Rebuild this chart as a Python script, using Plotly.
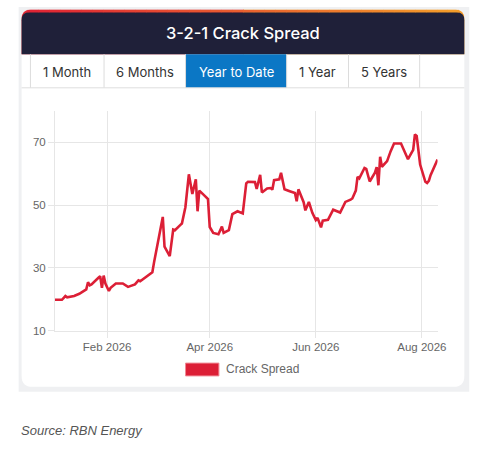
import plotly.graph_objects as go

# ---------------------------
# Data (YTD 3-2-1 crack spread, $/bbl)
# ---------------------------
dates = [
    "2026-01-02", "2026-01-06", "2026-01-08", "2026-01-09", "2026-01-13",
    "2026-01-16", "2026-01-20", "2026-01-21", "2026-01-22", "2026-01-23",
    "2026-01-27", "2026-01-28", "2026-01-29", "2026-01-30", "2026-01-31",
    "2026-02-02", "2026-02-03", "2026-02-05", "2026-02-06", "2026-02-10",
    "2026-02-12", "2026-02-13", "2026-02-17", "2026-02-19", "2026-02-20",
    "2026-02-24", "2026-02-27", "2026-02-28", "2026-03-03", "2026-03-05",
    "2026-03-06", "2026-03-09", "2026-03-11", "2026-03-12", "2026-03-15",
    "2026-03-16", "2026-03-18", "2026-03-20", "2026-03-22", "2026-03-24",
    "2026-03-25", "2026-03-26", "2026-03-29", "2026-03-31", "2026-04-01",
    "2026-04-03", "2026-04-06", "2026-04-08", "2026-04-09", "2026-04-12",
    "2026-04-14", "2026-04-17", "2026-04-20", "2026-04-22", "2026-04-23",
    "2026-04-27", "2026-04-28", "2026-04-30", "2026-05-01", "2026-05-04",
    "2026-05-06", "2026-05-07", "2026-05-08", "2026-05-11", "2026-05-12",
    "2026-05-14", "2026-05-17", "2026-05-20", "2026-05-21", "2026-05-22",
    "2026-05-25", "2026-05-26", "2026-05-28", "2026-05-30", "2026-06-01",
    "2026-06-02", "2026-06-04", "2026-06-05", "2026-06-08", "2026-06-11",
    "2026-06-15", "2026-06-16", "2026-06-18", "2026-06-21", "2026-06-22",
    "2026-06-24", "2026-06-25", "2026-06-26", "2026-06-29", "2026-06-30",
    "2026-07-02", "2026-07-05", "2026-07-06", "2026-07-07", "2026-07-08",
    "2026-07-09", "2026-07-12", "2026-07-14", "2026-07-16", "2026-07-20",
    "2026-07-22", "2026-07-24", "2026-07-27", "2026-07-28", "2026-07-29",
    "2026-07-31", "2026-08-03", "2026-08-04", "2026-08-05", "2026-08-06",
    "2026-08-10",
]
crack_spread = [
    19.8, 19.8, 21.0, 20.6, 21.0,
    21.7, 23.1, 25.4, 24.4, 24.7,
    26.8, 27.3, 23.6, 27.5, 25.0,
    22.6, 23.6, 24.7, 25.0, 25.0,
    24.4, 23.9, 24.7, 26.0, 25.7,
    27.3, 28.6, 31.8, 39.9, 46.2,
    36.7, 33.7, 42.2, 42.0, 43.6,
    44.1, 49.3, 59.8, 53.5, 58.2,
    48.0, 54.6, 53.0, 51.9, 43.0,
    41.1, 40.7, 43.1, 41.1, 42.0,
    47.1, 48.0, 47.3, 56.9, 57.4,
    57.3, 55.1, 59.6, 54.0, 55.3,
    55.4, 54.9, 57.9, 58.2, 60.3,
    55.0, 54.4, 53.8, 51.2, 55.0,
    50.9, 48.3, 51.0, 47.5, 45.2,
    45.9, 42.9, 45.0, 45.3, 48.5,
    47.6, 48.8, 51.0, 51.7, 52.1,
    54.6, 59.0, 58.5, 61.8, 61.5,
    57.5, 60.3, 62.1, 56.3, 65.4,
    62.2, 64.0, 67.1, 69.6, 69.6,
    67.1, 64.6, 67.6, 72.5, 72.0,
    62.9, 57.4, 57.0, 57.7, 59.5,
    64.5,
]

x_tick_vals = ["2026-02-01", "2026-04-01", "2026-06-01", "2026-08-01"]
x_tick_text = ["Feb 2026", "Apr 2026", "Jun 2026", "Aug 2026"]
y_tick_vals = [10, 30, 50, 70]

tabs = ["1 Month", "6 Months", "Year to Date", "1 Year", "5 Years"]
active_tab = "Year to Date"
title_text = "3-2-1 Crack Spread"
series_name = "Crack Spread"
source_text = "Source: RBN Energy"

# ---------------------------
# Page geometry (window pixels)
# ---------------------------
W, H = 491, 449
RED = "#dc1f36"
GRID = "#e6e6e6"
NAVY = "#1f2039"
BLUE = "#0b77c5"


def px(x):
    return x / W


def py(y):
    return 1 - y / H


def box_path(x0, y0, x1, y1, tl=0, tr=0, br=0, bl=0):
    # rounded rectangle as an svg path in paper coords
    p = lambda x, y: f"{px(x):.5f},{py(y):.5f}"
    return (
        f"M {p(x0 + tl, y0)} L {p(x1 - tr, y0)} Q {p(x1, y0)} {p(x1, y0 + tr)} "
        f"L {p(x1, y1 - br)} Q {p(x1, y1)} {p(x1 - br, y1)} "
        f"L {p(x0 + bl, y1)} Q {p(x0, y1)} {p(x0, y1 - bl)} "
        f"L {p(x0, y0 + tl)} Q {p(x0, y0)} {p(x0 + tl, y0)} Z"
    )


def rect(x0, y0, x1, y1, color):
    return dict(type="rect", xref="paper", yref="paper", layer="below",
                x0=px(x0), x1=px(x1), y0=py(y1), y1=py(y0),
                fillcolor=color, line=dict(width=0))


def path(d, color):
    return dict(type="path", xref="paper", yref="paper", layer="below",
                path=d, fillcolor=color, line=dict(width=0))


def hline(x0, x1, y, color):
    return dict(type="line", xref="paper", yref="paper", layer="below",
                x0=px(x0), x1=px(x1), y0=py(y), y1=py(y),
                line=dict(color=color, width=1))


def vline(x, y0, y1, color):
    return dict(type="line", xref="paper", yref="paper", layer="below",
                x0=px(x), x1=px(x), y0=py(y0), y1=py(y1),
                line=dict(color=color, width=1))


shapes = []
# outer grey frame and white card
shapes.append(rect(19, 7, 478, 397, "#eff0f2"))
shapes.append(path(box_path(22, 10, 473, 392, 9, 9, 11, 11), "white"))

# header: gradient strip on top of a navy band
mid = (22 + 473) / 2
shapes.append(path(box_path(22, 10, mid + 1, 55, tl=9), "#df2a36"))
shapes.append(path(box_path(mid, 10, 473, 55, tr=9), "#f29a2a"))
shapes.append(path(box_path(22, 12.5, 473, 55, 8, 8, 0, 0), NAVY))
c0, c1 = (223, 36, 52), (243, 156, 42)
n = 40
for i in range(n):
    xa = 28 + (467 - 28) * i / n
    xb = 28 + (467 - 28) * (i + 1) / n + 0.5
    t = i / (n - 1)
    col = "rgb({},{},{})".format(*[round(a + (b - a) * t) for a, b in zip(c0, c1)])
    shapes.append(rect(xa, 10, xb, 12.5, col))

# tab row
tab_edges = [31, 106, 189, 292, 355, 427.5]
shapes.append(rect(tab_edges[2], 55, tab_edges[3], 89, BLUE))
for xe in tab_edges:
    shapes.append(vline(xe, 55, 89, "#dcdcdc"))
shapes.append(hline(22, 473, 89, "#dedede"))

# legend swatch
shapes.append(dict(type="rect", xref="paper", yref="paper", layer="above",
                   x0=px(189), x1=px(223), y0=py(381), y1=py(368),
                   fillcolor=RED, line=dict(color="#f08a95", width=1)))

annotations = [
    dict(text=title_text, x=px(248), y=py(33), xref="paper", yref="paper",
         showarrow=False, xanchor="center", yanchor="middle",
         font=dict(family="Inter, Roboto, sans-serif", size=16.5, color="white",
                   weight=500)),
    dict(text=series_name, x=px(228), y=py(374.5), xref="paper", yref="paper",
         showarrow=False, xanchor="left", yanchor="middle",
         font=dict(family="Liberation Sans, Arial, sans-serif", size=12, color="#666")),
    dict(text=f"<i>{source_text}</i>", x=px(19), y=py(436), xref="paper", yref="paper",
         showarrow=False, xanchor="left", yanchor="middle",
         font=dict(family="Liberation Sans, Arial, sans-serif", size=13, color="#555")),
]
for i, name in enumerate(tabs):
    cx = (tab_edges[i] + tab_edges[i + 1]) / 2
    annotations.append(dict(
        text=name, x=px(cx), y=py(72.5), xref="paper", yref="paper",
        showarrow=False, xanchor="center", yanchor="middle",
        font=dict(family="Inter, Roboto, sans-serif", size=13,
                  color="white" if name == active_tab else "#333")))

# ---------------------------
# Figure
# ---------------------------
fig = go.Figure()
fig.add_trace(go.Scatter(
    x=dates, y=crack_spread, name=series_name, mode="lines",
    line=dict(color=RED, width=2.6), hoverinfo="x+y",
))

fig.update_layout(
    width=W, height=H,
    margin=dict(l=0, r=0, t=0, b=0),
    paper_bgcolor="white",
    plot_bgcolor="rgba(0,0,0,0)",
    showlegend=False,
    shapes=shapes,
    annotations=annotations,
    font=dict(family="Liberation Sans, Arial, sans-serif", size=11.5, color="#666"),
)
fig.update_xaxes(
    domain=[px(56), px(445.7)],
    range=[dates[0], dates[-1]],
    tickvals=x_tick_vals, ticktext=x_tick_text,
    showgrid=True, gridcolor=GRID, gridwidth=1,
    ticks="outside", ticklen=6, tickcolor=GRID,
    showline=True, linecolor=GRID, zeroline=False,
    fixedrange=True,
)
fig.update_yaxes(
    domain=[py(335), py(112.4)],
    range=[10, 80],
    tickvals=y_tick_vals,
    showgrid=True, gridcolor=GRID, gridwidth=1,
    ticks="outside", ticklen=6, tickcolor=GRID,
    showline=True, linecolor=GRID, zeroline=False,
    fixedrange=True,
)

# drop the default page margin so the figure fills the window exactly
fig.write_html("out.html", config={"displayModeBar": False},
               post_script="document.body.style.margin='0';")
